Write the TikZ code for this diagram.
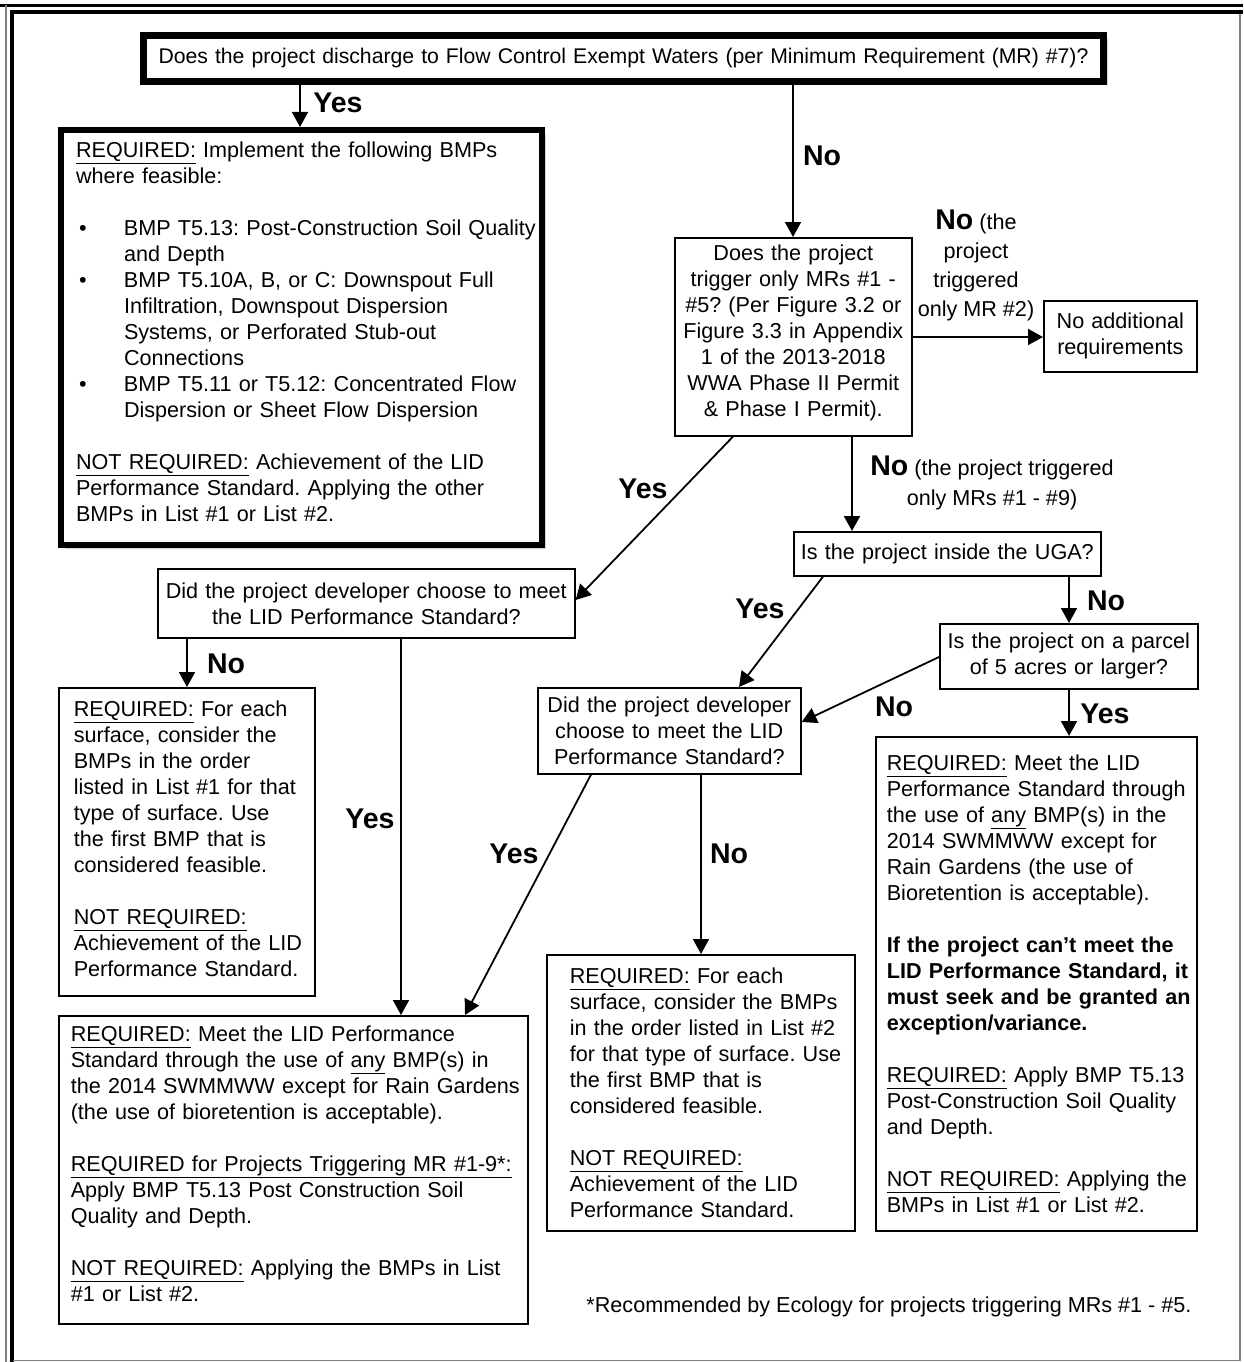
\documentclass[tikz,border=0pt]{standalone}
\usepackage{fontspec}
\setmainfont{Liberation Sans}
\usepackage{tikz}
\usetikzlibrary{arrows.meta, positioning, shadows}
\frenchspacing
\newcommand{\bodyfont}{\fontsize{21.6}{26}\selectfont}
\newcommand{\lblfont}{\fontsize{28.5}{30}\selectfont\bfseries}
\newcommand{\bmpitem}{\makebox[48pt][l]{\hspace{3pt}\textbullet}}
\newcommand{\bmpindent}{\hspace*{48pt}}
\newcommand{\liftby}[1]{\par\kern#1\relax}

\begin{document}
\begin{tikzpicture}[
  x=1pt, y=-1pt,
  basebox/.style={
    draw, line width=1.6pt, fill=white, anchor=north west, inner sep=0pt,
    font=\bodyfont,
  },
  qbox/.style={basebox, align=center},
  reqbox/.style={basebox, align=left,
    execute at begin node={\leftskip=#1\rightskip=-20pt plus 1fil}},
  heavy/.style={line width=#1,
    drop shadow={shadow xshift=4pt, shadow yshift=-4pt, opacity=0.35}},
  lbl/.style={inner sep=0pt, font=\lblfont},
  arrow/.style={-{Triangle[length=15pt,width=16pt]}, line width=1.8pt},
]
\useasboundingbox (0,0) rectangle (1243,1362);
\draw[line width=3pt] (0,5.5) -- (1243,5.5);
\draw[line width=4pt] (1243,12.5) -- (11.5,12.5) -- (11.5,1362);
\draw[gray, line width=1.2pt] (6,5.5) -- (6,1362);
\draw[gray, line width=1.5pt] (1240,14) -- (1240,1360.5) -- (13,1360.5);

\node[qbox, heavy=7pt, text width=960, minimum height=46, font=\fontsize{21.2}{26}\selectfont] (top) at (140,32)
  {Does the project discharge to Flow Control Exempt Waters (per Minimum Requirement (MR) \#7)?};
\node[reqbox=15pt, heavy=6pt, text width=481, minimum height=415] (req1) at (58,127)
  {\underline{REQUIRED:} Implement the following BMPs\\
   where feasible:\\[26pt]
   \bmpitem BMP T5.13: Post-Construction Soil Quality\\
   \bmpindent and Depth\\
   \bmpitem BMP T5.10A, B, or C: Downspout Full\\
   \bmpindent Infiltration, Downspout Dispersion\\
   \bmpindent Systems, or Perforated Stub-out\\
   \bmpindent Connections\\
   \bmpitem BMP T5.11 or T5.12: Concentrated Flow\\
   \bmpindent Dispersion or Sheet Flow Dispersion\\[26pt]
   \underline{NOT REQUIRED:} Achievement of the LID\\
   Performance Standard. Applying the other\\
   BMPs in List \#1 or List \#2.\liftby{12pt}};
\node[qbox, text width=237, minimum height=198] (q2) at (674,237)
  {Does the project\\trigger only MRs \#1 -\\\#5? (Per Figure 3.2 or\\Figure 3.3 in Appendix\\
   1 of the 2013-2018\\WWA Phase II Permit\\\& Phase I Permit).\liftby{8pt}};
\node[qbox, text width=153, minimum height=71] (noadd) at (1043,300)
  {No additional\\requirements};
\node[qbox, text width=417, minimum height=69] (q3) at (157,568)
  {Did the project developer choose to meet\\the LID Performance Standard?};
\node[qbox, text width=307, minimum height=44] (q4) at (793,531)
  {Is the project inside the UGA?};
\node[qbox, text width=258, minimum height=65] (q5) at (939,623)
  {Is the project on a parcel\\of 5 acres or larger?};
\node[qbox, text width=263, minimum height=86] (q6) at (537,687)
  {Did the project developer\\choose to meet the LID\\Performance Standard?};
\node[reqbox=15pt, text width=256, minimum height=308] (req2) at (58,687)
  {\underline{REQUIRED:} For each\\surface, consider the\\BMPs in the order\\listed in List \#1 for that\\
   type of surface. Use\\the first BMP that is\\considered feasible.\\[26pt]
   \underline{NOT REQUIRED:}\\Achievement of the LID\\Performance Standard.\liftby{6pt}};
\node[reqbox=12pt, text width=469, minimum height=308] (req3) at (58,1015)
  {\underline{REQUIRED:} Meet the LID Performance\\
   Standard through the use of \underline{any} BMP(s) in\\
   the 2014 SWMMWW except for Rain Gardens\\
   (the use of bioretention is acceptable).\\[26pt]
   \underline{REQUIRED for Projects Triggering MR \#1-9*:}\\
   Apply BMP T5.13 Post Construction Soil\\
   Quality and Depth.\\[26pt]
   \underline{NOT REQUIRED:} Applying the BMPs in List\\
   \#1 or List \#2.\liftby{12pt}};
\node[reqbox=23pt, text width=308, minimum height=276] (req4) at (546,954)
  {\underline{REQUIRED:} For each\\surface, consider the BMPs\\in the order listed in List \#2\\
   for that type of surface. Use\\the first BMP that is\\considered feasible.\\[26pt]
   \underline{NOT REQUIRED:}\\Achievement of the LID\\Performance Standard.};
\node[reqbox=11pt, text width=321, minimum height=494] (req5) at (875,736)
  {\underline{REQUIRED:} Meet the LID\\Performance Standard through\\
   the use of \underline{any} BMP(s) in the\\2014 SWMMWW except for\\
   Rain Gardens (the use of\\Bioretention is acceptable).\\[26pt]
   {\bfseries If the project can't meet the\\LID Performance Standard, it\\
   must seek and be granted an\\exception/variance.}\\[26pt]
   \underline{REQUIRED:} Apply BMP T5.13\\Post-Construction Soil Quality\\and Depth.\\[26pt]
   \underline{NOT REQUIRED:} Applying the\\BMPs in List \#1 or List \#2.};
\node[font=\bodyfont, inner sep=0pt] (note) at (889,1307)
  {*Recommended by Ecology for projects triggering MRs \#1 - \#5.};

\draw[arrow] (top.south -| 300,0) -- (req1.north -| 300,0);
\draw[arrow] (top.south -| 793,0) -- (q2.north -| 793,0);
\draw[arrow] (q2.east |- 0,337) -- (noadd.west |- 0,337);
\draw[arrow] (q2.south -| 733,0) -- (q3.east |- 0,600);
\draw[arrow] (q2.south -| 852,0) -- (q4.north -| 852,0);
\draw[arrow] (q4.south -| 823,0) -- (q6.north -| 739,0);
\draw[arrow] (q4.south -| 1069,0) -- (q5.north -| 1069,0);
\draw[arrow] (q5.west |- 0,657) -- (q6.east |- 0,722);
\draw[arrow] (q5.south -| 1069,0) -- (req5.north -| 1069,0);
\draw[arrow] (q3.south -| 187,0) -- (req2.north -| 187,0);
\draw[arrow] (q3.south -| 401,0) -- (req3.north -| 401,0);
\draw[arrow] (q6.south -| 591,0) -- (req3.north -| 465,0);
\draw[arrow] (q6.south -| 701,0) -- (req4.north -| 701,0);

\node[lbl] (yes1) at (338,103) {Yes};
\node[lbl] (no1) at (822,156) {No};
\node[inner sep=0pt, anchor=north, align=center, font=\fontsize{21.6}{29}\selectfont] (no2) at (976,210)
  {{\lblfont No} (the\\project\\triggered\\only MR \#2)};
\node[lbl] (yes2) at (643,489) {Yes};
\node[inner sep=0pt, anchor=north, align=center, font=\fontsize{21.6}{30}\selectfont] (no3) at (992,456)
  {{\lblfont No} (the project triggered\\only MRs \#1 - \#9)};
\node[lbl] (yes3) at (760,609) {Yes};
\node[lbl] (no4) at (1106,601) {No};
\node[lbl] (no5) at (894,707) {No};
\node[lbl] (yes4) at (1105,714) {Yes};
\node[lbl] (no6) at (226,664) {No};
\node[lbl] (yes5) at (370,819) {Yes};
\node[lbl] (yes6) at (514,854) {Yes};
\node[lbl] (no7) at (729,854) {No};
\end{tikzpicture}
\end{document}
